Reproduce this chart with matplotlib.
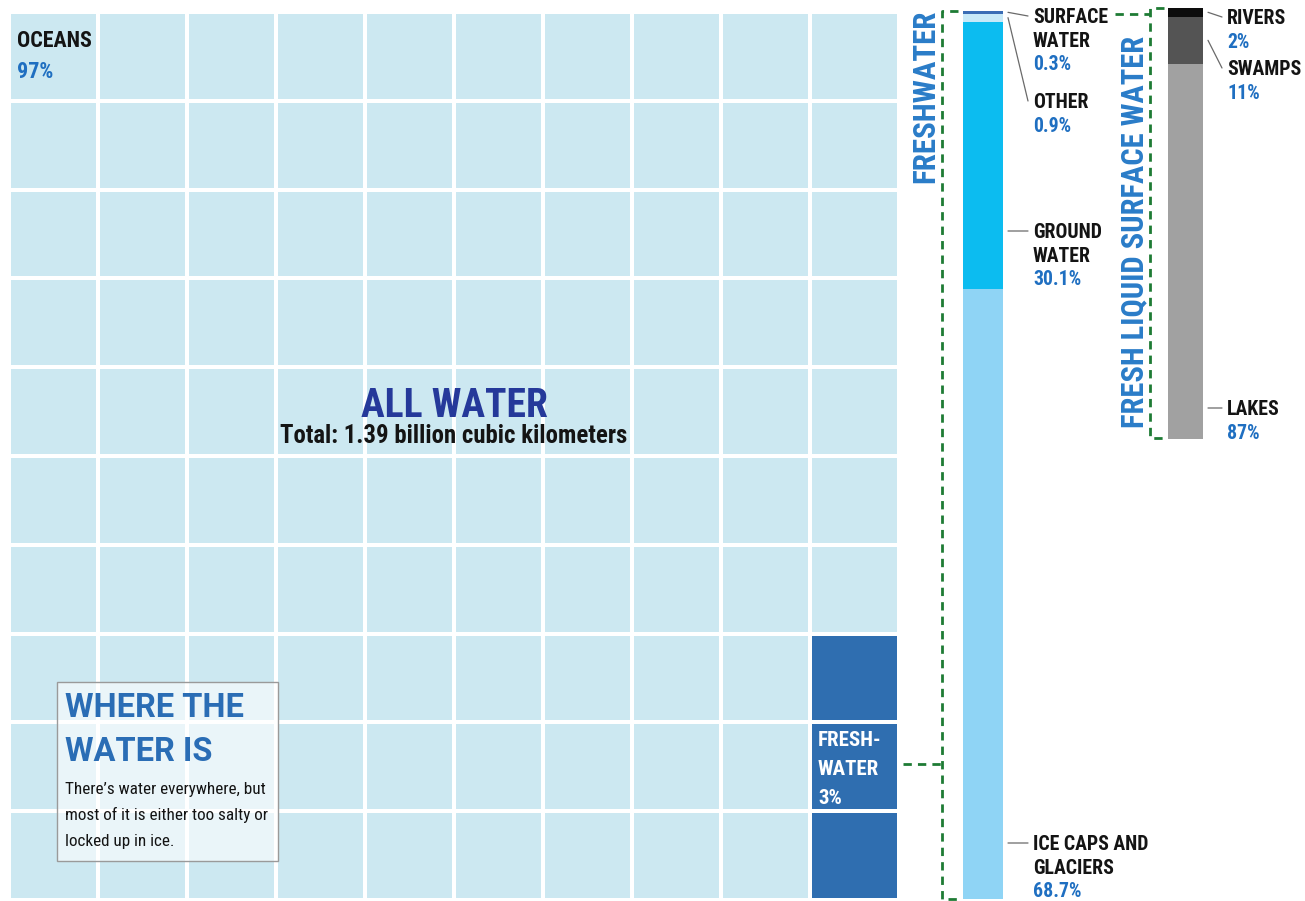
import matplotlib
matplotlib.use("Agg")
import matplotlib.pyplot as plt
import numpy as np
from matplotlib import font_manager
from matplotlib.colors import ListedColormap

# ---- data ------------------------------------------------------------------
ALL_LABELS = ["OCEANS", "FRESH-\nWATER"]
ALL_PCT = [97, 3]
ALL_COLORS = ["#cce8f1", "#2f6eb0"]

# freshwater breakdown, bottom -> top
FRESH_LABELS = ["ICE CAPS AND\nGLACIERS", "GROUND\nWATER", "OTHER", "SURFACE\nWATER"]
FRESH_PCT = [68.7, 30.1, 0.9, 0.3]
FRESH_COLORS = ["#8fd4f5", "#0cbcf0", "#c8e9f8", "#3b6db5"]

# fresh liquid surface water, bottom -> top
SURF_LABELS = ["LAKES", "SWAMPS", "RIVERS"]
SURF_PCT = [87, 11, 2]
SURF_COLORS = ["#a1a1a1", "#545454", "#0d0d0d"]

TOTAL_TEXT = "Total: 1.39 billion cubic kilometers"
BLURB_TITLE = "WHERE THE\nWATER IS"
BLURB_BODY = ["There\u2019s water everywhere, but",
              "most of it is either too salty or",
              "locked up in ice."]

# ---- layout (pixels, origin top-left) --------------------------------------
W, H = 1305, 901
GRID_BOX = (9, 12, 899, 900)
FRESH_BOX = (963, 11, 1003, 899)
SURF_BOX = (1168, 8, 1203, 439)

FRESH_POS = {"ICE CAPS AND\nGLACIERS": (1033, 843), "GROUND\nWATER": (1033, 231),
             "OTHER": (1033, 101), "SURFACE\nWATER": (1033, 16)}
SURF_POS = {"LAKES": (1227, 408), "SWAMPS": (1227, 68), "RIVERS": (1227, 17)}

BLUE = "#1f6fc1"
NAVY = "#25399a"
INK = "#141414"
GREEN = "#1e7b34"
LEADER = "#6a6a6a"


def pick_narrow():
    """Find a condensed sans face; fall back to the narrowest regular one."""
    entries = font_manager.fontManager.ttflist
    names = {f.name for f in entries}
    for fam in ("Roboto Condensed", "Open Sans Condensed", "Liberation Sans Narrow",
                "Noto Sans Condensed", "DejaVu Sans Condensed", "Arial Narrow"):
        if fam in names:
            return fam, "normal", True
    for n in sorted(names):
        if ("Condensed" in n or "Narrow" in n) and "Mono" not in n and "Serif" not in n:
            return n, "normal", True
    for fam in ("Roboto", "Noto Sans", "Open Sans", "DejaVu Sans"):
        if any(f.name == fam and str(f.stretch) == "condensed" for f in entries):
            return fam, "condensed", True
    for fam in ("Roboto", "Noto Sans", "Open Sans", "DejaVu Sans"):
        if any(f.name == fam and "condensed" in str(f.stretch) for f in entries):
            return fam, "semi-condensed", True
    return "Roboto", "normal", False


NARROW, STRETCH, IS_NARROW = pick_narrow()
FONT = dict(family=[NARROW, "DejaVu Sans"], stretch=STRETCH)
WIDE = dict(family=["Roboto", "DejaVu Sans"])
# regular-width faces run wider, so shrink them a little
K = 1.0 if IS_NARROW else 0.88


def px_axes(fig, box, **kw):
    x0, y0, x1, y1 = box
    return fig.add_axes([x0 / W, 1 - y1 / H, (x1 - x0) / W, (y1 - y0) / H], **kw)


def pct_text(v):
    return f"{v:g}%"


def put_label(ax, x, y, name, value, size=14.2, step=23.5):
    lines = name.split("\n")
    lift = size * 0.5
    for i, line in enumerate(lines):
        ax.text(x, y + i * step + lift, line, color=INK, fontsize=size * K,
                fontweight="bold", va="baseline", ha="left", **FONT)
    ax.text(x, y + len(lines) * step + lift, pct_text(value), color=BLUE,
            fontsize=size * K, fontweight="bold", va="baseline", ha="left", **FONT)


def stacked_bar(ax, values, colors):
    bottoms = np.concatenate([[0], np.cumsum(values)[:-1]])
    for v, b, c in zip(values, bottoms, colors):
        ax.bar([0], [v], bottom=[b], width=1.0, color=c, linewidth=0)
    ax.set_xlim(-0.5, 0.5)
    ax.set_ylim(0, sum(values))
    ax.axis("off")
    return bottoms


def leaders(bar_ax, over, values, bottoms, labels, pos, bar_px_w):
    inv = bar_ax.transData.inverted()
    for v, b, name in zip(values, bottoms, labels):
        x, y = pos[name]
        disp = over.transData.transform((x, y))
        y_data = inv.transform(disp)[1]
        target = y_data if b <= y_data <= b + v else b + v / 2
        over.annotate("", xy=(1 + 5 / bar_px_w, target),
                      xycoords=bar_ax.get_yaxis_transform(),
                      xytext=(x - 5, y), textcoords=over.transData,
                      arrowprops=dict(arrowstyle="-", color=LEADER, lw=0.9,
                                      shrinkA=0, shrinkB=0))


def dashed(ax, xs, ys):
    ax.plot(xs, ys, color=GREEN, lw=2.0, linestyle=(0, (3, 2.2)),
            solid_capstyle="butt", dash_capstyle="butt")


fig = plt.figure(figsize=(W / 100, H / 100), dpi=100)
fig.patch.set_facecolor("white")

# ---- 10 x 10 grid of all water ---------------------------------------------
grid_ax = px_axes(fig, GRID_BOX)
cells = np.arange(100).reshape(10, 10, order="F")
codes = np.searchsorted(np.cumsum(ALL_PCT), cells, side="right")
grid_ax.pcolormesh(np.arange(11), np.arange(11), codes,
                   cmap=ListedColormap(ALL_COLORS), vmin=-0.5, vmax=1.5,
                   edgecolors="white", linewidth=1.6)
grid_ax.set_xlim(0, 10)
grid_ax.set_ylim(10, 0)
grid_ax.axis("off")

# ---- freshwater and surface water bars -------------------------------------
fresh_ax = px_axes(fig, FRESH_BOX)
fresh_bottoms = stacked_bar(fresh_ax, FRESH_PCT, FRESH_COLORS)
surf_ax = px_axes(fig, SURF_BOX)
surf_bottoms = stacked_bar(surf_ax, SURF_PCT, SURF_COLORS)

# ---- overlay for text and connectors ---------------------------------------
over = fig.add_axes([0, 0, 1, 1], zorder=5)
over.set_xlim(0, W)
over.set_ylim(H, 0)
over.patch.set_alpha(0)
over.axis("off")

put_label(over, 17, 39, ALL_LABELS[0], ALL_PCT[0], size=15.8, step=31)
fresh_cell_x = 818
for i, line in enumerate((ALL_LABELS[1] + "\n" + pct_text(ALL_PCT[1])).split("\n")):
    over.text(fresh_cell_x, 739 + i * 28.5 + 7.5, line, color="white", fontsize=15 * K,
              fontweight="bold", va="baseline", **FONT)

over.text(454, 402 + 15, "ALL WATER", color=NAVY, fontsize=28.5 * K, fontweight="bold",
          ha="center", va="baseline", **FONT)
over.text(454, 443, TOTAL_TEXT, color=INK, fontsize=17.8 * K, fontweight="bold",
          ha="center", va="baseline", **FONT)

# description box
over.add_patch(plt.Rectangle((57, 682), 221, 179, facecolor="white", alpha=0.6,
                             edgecolor="none", zorder=1))
over.add_patch(plt.Rectangle((57, 682), 221, 179, facecolor="none",
                             edgecolor="#9a9a9a", lw=1.0, zorder=2))
for i, line in enumerate(BLURB_TITLE.split("\n")):
    over.text(65, 706 + i * 44 + 11, line, color="#2a6db5", fontsize=23.5,
              fontweight="bold", va="baseline", zorder=3, **WIDE)
for i, line in enumerate(BLURB_BODY):
    over.text(65, 786 + i * 26 + 8, line, color=INK, fontsize=12.3 * K,
              va="baseline", zorder=3, **FONT)

for name, v in zip(FRESH_LABELS, FRESH_PCT):
    put_label(over, *FRESH_POS[name], name, v)
for name, v in zip(SURF_LABELS, SURF_PCT):
    put_label(over, *SURF_POS[name], name, v)

leaders(fresh_ax, over, FRESH_PCT, fresh_bottoms, FRESH_LABELS, FRESH_POS,
        FRESH_BOX[2] - FRESH_BOX[0])
leaders(surf_ax, over, SURF_PCT, surf_bottoms, SURF_LABELS, SURF_POS,
        SURF_BOX[2] - SURF_BOX[0])

over.text(925, 96, "FRESHWATER", color="#2a7cc8", fontsize=22.3 * K, fontweight="bold",
          rotation=90, ha="center", va="center", **FONT)
over.text(1134, 232, "FRESH LIQUID SURFACE WATER", color="#2a7cc8", fontsize=22 * K,
          fontweight="bold", rotation=90, ha="center", va="center", **FONT)

# brackets tying each bar to its parent
dashed(over, [903, 942], [764, 764])
dashed(over, [958, 942, 942, 958], [11, 11, 899, 899])
dashed(over, [1115, 1150], [14, 14])
dashed(over, [1164, 1150, 1150, 1164], [8, 8, 438, 438])

fig.savefig("out.png", dpi=100)
